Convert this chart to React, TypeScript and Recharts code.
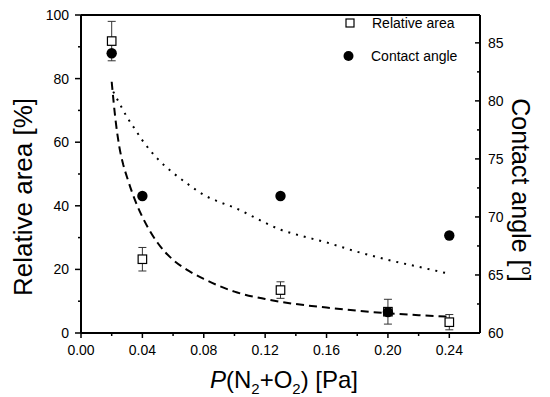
import { ComposedChart, Scatter, Line, XAxis, YAxis, ErrorBar, Customized } from "recharts"

// measured points
const pressure = [0.02, 0.04, 0.13, 0.2, 0.24]
const relativeArea = [91.8, 23.2, 13.5, 6.7, 3.4]
const relativeAreaErr = [6.2, 3.7, 2.6, 3.9, 2.4]
const contactAngle = [84.1, 71.8, 71.8, 61.8, 68.4]

// fitted curves
const areaFitX = [0.02, 0.0225, 0.025, 0.0275, 0.03, 0.035, 0.04, 0.045, 0.05, 0.06, 0.07, 0.08, 0.09, 0.1, 0.12, 0.14, 0.16, 0.18, 0.2, 0.22, 0.24]
const areaFitY = [79, 67, 58.5, 53, 49, 42, 36.5, 32, 28.3, 23, 19.6, 17, 14.8, 13, 10.7, 9.1, 8, 7, 6.2, 5.6, 5.1]
const angleFitX = [0.021, 0.025, 0.03, 0.035, 0.04, 0.05, 0.06, 0.07, 0.08, 0.09, 0.1, 0.12, 0.13, 0.14, 0.16, 0.18, 0.2, 0.22, 0.24]
const angleFitY = [80.8, 79.8, 78.6, 77.6, 76.6, 75, 73.8, 72.8, 71.9, 71.3, 70.8, 69.5, 68.9, 68.5, 67.8, 67, 66.3, 65.7, 65.1]

// axes
const xMajor = [0, 0.04, 0.08, 0.12, 0.16, 0.2, 0.24]
const xMinor = [0.02, 0.06, 0.1, 0.14, 0.18, 0.22]
const xLabels = ["0.00", "0.04", "0.08", "0.12", "0.16", "0.20", "0.24"]
const leftMajor = [0, 20, 40, 60, 80, 100]
const leftMinor = [10, 30, 50, 70, 90]
const leftLabels = ["0", "20", "40", "60", "80", "100"]
const rightMajor = [60, 65, 70, 75, 80, 85]
const rightMinor = [62.5, 67.5, 72.5, 77.5, 82.5]
const rightLabels = ["60", "65", "70", "75", "80", "85"]

const FONT = "'Liberation Sans', Arial, sans-serif"

const areaPoints = pressure.map((x, i) => ({ x, y: relativeArea[i], err: relativeAreaErr[i] }))
const anglePoints = pressure.map((x, i) => ({ x, y: contactAngle[i] }))
const areaFit = areaFitX.map((x, i) => ({ x, y: areaFitY[i] }))
const angleFit = angleFitX.map((x, i) => ({ x, y: angleFitY[i] }))

const xTicks = [...xMajor, ...xMinor].sort((a, b) => a - b)
const leftTicks = [...leftMajor, ...leftMinor].sort((a, b) => a - b)
const rightTicks = [...rightMajor, ...rightMinor].sort((a, b) => a - b)

function BottomTick({ x, y, payload }: any) {
  const i = xMajor.indexOf(payload.value)
  return (
    <g>
      <line x1={x} y1={y} x2={x} y2={y + (i >= 0 ? 5 : 3)} stroke="#000" strokeWidth={1.5} />
      {i >= 0 && (
        <text x={x} y={y + 22} textAnchor="middle" fontSize={14} fontFamily={FONT} fill="#000">
          {xLabels[i]}
        </text>
      )}
    </g>
  )
}

function TopTick({ x, y, payload }: any) {
  const major = xMajor.includes(payload.value)
  return <line x1={x} y1={y} x2={x} y2={y + (major ? 6 : 3)} stroke="#000" strokeWidth={1.5} />
}

function LeftTick({ x, y, payload }: any) {
  const i = leftMajor.indexOf(payload.value)
  return (
    <g>
      <line x1={x} y1={y} x2={x - (i >= 0 ? 6 : 3)} y2={y} stroke="#000" strokeWidth={1.5} />
      {i >= 0 && (
        <text x={x - 12} y={y} dy="0.36em" textAnchor="end" fontSize={14} fontFamily={FONT} fill="#000">
          {leftLabels[i]}
        </text>
      )}
    </g>
  )
}

function RightTick({ x, y, payload }: any) {
  const i = rightMajor.indexOf(payload.value)
  return (
    <g>
      <line x1={x} y1={y} x2={x - (i >= 0 ? 5 : 3)} y2={y} stroke="#000" strokeWidth={1.5} />
      {i >= 0 && (
        <text x={x + 8} y={y} dy="0.36em" textAnchor="start" fontSize={14} fontFamily={FONT} fill="#000">
          {rightLabels[i]}
        </text>
      )}
    </g>
  )
}

const Square = ({ cx, cy }: any) => (
  <rect x={cx - 4.25} y={cy - 4.25} width={8.5} height={8.5} fill="#fff" stroke="#000" strokeWidth={1.2} />
)
const Dot = ({ cx, cy }: any) => <circle cx={cx} cy={cy} r={5.2} fill="#000" />

function Decorations() {
  return (
    <g fontFamily={FONT} fill="#000">
      <text transform="rotate(-90, 32, 197)" x={32} y={197} textAnchor="middle" fontSize={26}>
        Relative area [%]
      </text>
      <text transform="rotate(90, 512, 190)" x={512} y={190} textAnchor="middle" fontSize={25}>
        Contact angle [<tspan fontSize={15} dy={-10}>o</tspan>
        <tspan dy={10}>]</tspan>
      </text>
      <text x={284} y={388} textAnchor="middle" fontSize={24}>
        <tspan fontStyle="italic">P</tspan>(N<tspan fontSize={15} dy={6}>2</tspan>
        <tspan dy={-6}>+O</tspan>
        <tspan fontSize={15} dy={6}>2</tspan>
        <tspan dy={-6}>) [Pa]</tspan>
      </text>
      <rect x={346} y={19} width={8} height={8} fill="#fff" stroke="#000" strokeWidth={1.2} />
      <text x={372} y={28} fontSize={14}>Relative area</text>
      <circle cx={348.5} cy={56} r={5} fill="#000" />
      <text x={371} y={61} fontSize={14}>Contact angle</text>
    </g>
  )
}

export default function App() {
  return (
    <div style={{ position: "absolute", left: 0, top: 0, background: "#fff" }}>
      <ComposedChart width={550} height={397} margin={{ top: 10, right: 30, bottom: 24, left: 41 }}>
        <XAxis
          xAxisId="bottom"
          type="number"
          dataKey="x"
          domain={[0, 0.26]}
          ticks={xTicks}
          interval={0}
          height={40}
          tickSize={0}
          tickMargin={0}
          tickLine={false}
          axisLine={{ stroke: "#000", strokeWidth: 2 }}
          tick={BottomTick}
        />
        <XAxis
          xAxisId="top"
          orientation="top"
          type="number"
          dataKey="x"
          domain={[0, 0.26]}
          ticks={xTicks}
          interval={0}
          height={5}
          tickSize={0}
          tickMargin={0}
          tickLine={false}
          axisLine={{ stroke: "#000", strokeWidth: 2 }}
          tick={TopTick}
        />
        <YAxis
          yAxisId="left"
          dataKey="y"
          type="number"
          domain={[0, 100]}
          ticks={leftTicks}
          interval={0}
          width={40}
          tickSize={0}
          tickMargin={0}
          tickLine={false}
          axisLine={{ stroke: "#000", strokeWidth: 2 }}
          tick={LeftTick}
        />
        <YAxis
          yAxisId="right"
          orientation="right"
          dataKey="y"
          type="number"
          domain={[60, 87.4]}
          ticks={rightTicks}
          interval={0}
          width={40}
          tickSize={0}
          tickMargin={0}
          tickLine={false}
          axisLine={{ stroke: "#000", strokeWidth: 2 }}
          tick={RightTick}
        />
        <Line
          xAxisId="bottom"
          yAxisId="left"
          data={areaFit}
          dataKey="y"
          type="monotone"
          stroke="#000"
          strokeWidth={2}
          strokeDasharray="8 5"
          dot={false}
          activeDot={false}
          isAnimationActive={false}
        />
        <Line
          xAxisId="bottom"
          yAxisId="right"
          data={angleFit}
          dataKey="y"
          type="monotone"
          stroke="#000"
          strokeWidth={2}
          strokeDasharray="2 6"
          dot={false}
          activeDot={false}
          isAnimationActive={false}
        />
        <Scatter xAxisId="bottom" yAxisId="left" data={areaPoints} dataKey="y" shape={Square} isAnimationActive={false}>
          <ErrorBar dataKey="err" direction="y" width={4} stroke="#333" strokeWidth={1} />
        </Scatter>
        <Scatter xAxisId="bottom" yAxisId="right" data={anglePoints} dataKey="y" shape={Dot} isAnimationActive={false} />
        <Customized component={Decorations} />
      </ComposedChart>
    </div>
  )
}
